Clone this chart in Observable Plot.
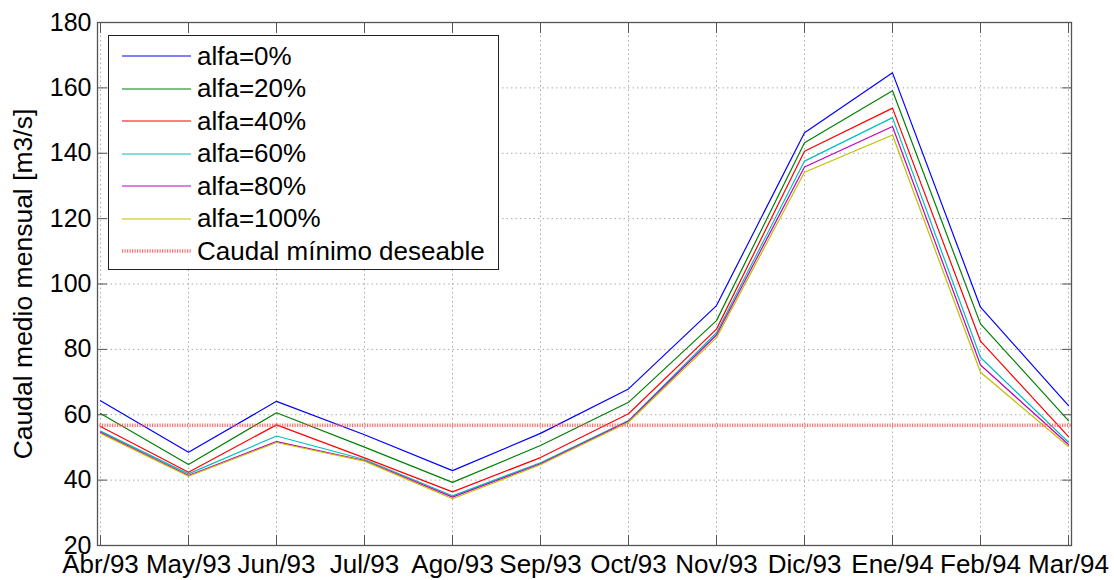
<!DOCTYPE html>
<html>
<head>
<meta charset="utf-8">
<script src="https://cdn.jsdelivr.net/npm/d3@7"></script>
<script src="https://cdn.jsdelivr.net/npm/@observablehq/plot@0.6"></script>
<style>
  html, body { margin: 0; padding: 0; background: #fff; }
  #wrap { position: relative; width: 1114px; height: 580px; font-family: "Liberation Sans", Arial, sans-serif; }
  #legend { position: absolute; left: 108px; top: 35px; width: 391px; height: 235px; border: 1px solid #222; background: #fff; box-sizing: border-box; }
  .row { position: absolute; left: 13px; height: 30px; display: flex; align-items: center; font-size: 26px; color: #000; }
  .row svg { width: 69px; height: 10px; margin-right: 6px; }
</style>
</head>
<body>
<div id="wrap"></div>
<script>
const months = ["Abr/93","May/93","Jun/93","Jul/93","Ago/93","Sep/93","Oct/93","Nov/93","Dic/93","Ene/94","Feb/94","Mar/94"];
const seriesNames = ["alfa=0%","alfa=20%","alfa=40%","alfa=60%","alfa=80%","alfa=100%"];
const seriesColors = ["#0000ff","#008000","#ff0000","#00bfbf","#bf00bf","#bfbf00"];
const alfa0   = [64.3, 48.5, 64.1, 53.9, 42.9, 54.3, 67.9, 93.4, 146.3, 164.6, 92.9, 62.8];
const alfa20  = [60.4, 44.8, 60.6, 50.1, 39.3, 50.6, 63.8, 88.8, 143.2, 159.1, 87.8, 58.2];
const alfa40  = [56.4, 42.4, 56.9, 46.8, 36.4, 46.9, 60.3, 86.2, 140.6, 153.8, 82.5, 53.3];
const alfa60  = [55.0, 41.9, 53.5, 46.3, 35.2, 45.3, 58.2, 85.1, 137.6, 150.9, 77.5, 51.6];
const alfa80  = [54.6, 41.4, 51.8, 46.0, 34.8, 45.0, 58.0, 84.4, 135.8, 148.2, 75.2, 50.9];
const alfa100 = [54.3, 41.2, 51.5, 45.8, 34.3, 44.7, 57.7, 83.6, 134.2, 145.6, 73.0, 50.3];
const caudalMinimo = 56.8;
const minLabel = "Caudal mínimo deseable";
const yTicks = [20, 40, 60, 80, 100, 120, 140, 160, 180];
const yLabel = "Caudal medio mensual [m3/s]";

const allSeries = [alfa0, alfa20, alfa40, alfa60, alfa80, alfa100];
const rows = [];
allSeries.forEach((vals, si) => vals.forEach((v, i) => rows.push({month: months[i], value: v, series: seriesNames[si]})));

const frameColor = "#555";
const chart = Plot.plot({
  width: 1114,
  height: 580,
  marginLeft: 97,
  marginRight: 43,
  marginTop: 22,
  marginBottom: 35,
  style: {fontFamily: "'Liberation Sans', Arial, sans-serif", fontSize: "25px", background: "#fff", color: "#000", overflow: "visible"},
  x: {type: "point", domain: months, padding: 0, axis: null},
  y: {domain: [20, 180], axis: null},
  color: {domain: seriesNames, range: seriesColors},
  marks: [
    Plot.gridY(yTicks, {stroke: "#aaa", strokeOpacity: 1, strokeDasharray: "1.5,3", strokeWidth: 1}),
    Plot.gridX(months, {stroke: "#aaa", strokeOpacity: 1, strokeDasharray: "1.5,3", strokeWidth: 1}),
    Plot.line(rows, {x: "month", y: "value", z: "series", stroke: "series", strokeWidth: 1.2}),
    Plot.ruleY([caudalMinimo], {stroke: "#ff5a5a", strokeWidth: 3.5, strokeDasharray: "1.2,1.3", strokeOpacity: 0.85}),
    Plot.frame({stroke: frameColor, strokeWidth: 1.3}),
    Plot.axisY(yTicks, {anchor: "left", tickSize: 0, tickPadding: 6, fontSize: 25, stroke: frameColor, label: null}),
    Plot.axisY(yTicks, {anchor: "left", tickSize: -10, text: null, stroke: frameColor, label: null}),
    Plot.axisY(yTicks, {anchor: "right", tickSize: -10, text: null, stroke: frameColor, label: null}),
    Plot.axisX(months, {anchor: "bottom", tickSize: 0, tickPadding: 9, fontSize: 26, label: null}),
    Plot.axisX(months, {anchor: "bottom", tickSize: -10, text: null, stroke: frameColor, label: null}),
    Plot.axisX(months, {anchor: "top", tickSize: -10, text: null, stroke: frameColor, label: null}),
    Plot.text([yLabel], {frameAnchor: "left", rotate: -90, dx: -74, fontSize: 26.5, textAnchor: "middle", fill: "#000"})
  ]
});

const wrap = document.getElementById("wrap");
wrap.appendChild(chart);

// Legend
const legend = document.createElement("div");
legend.id = "legend";
const entries = seriesNames.map((n, i) => ({name: n, color: seriesColors[i], min: false}));
entries.push({name: minLabel, color: "#ff5a5a", min: true});
entries.forEach((e, i) => {
  const r = document.createElement("div");
  r.className = "row";
  r.style.top = (5 + i * 32.5) + "px";
  const svgNS = "http://www.w3.org/2000/svg";
  const s = document.createElementNS(svgNS, "svg");
  const l = document.createElementNS(svgNS, "line");
  l.setAttribute("x1", 0); l.setAttribute("x2", 69);
  l.setAttribute("y1", 5); l.setAttribute("y2", 5);
  l.setAttribute("stroke", e.color);
  if (e.min) {
    l.setAttribute("stroke-width", 3.5);
    l.setAttribute("stroke-dasharray", "1.2,1.3");
    l.setAttribute("stroke-opacity", 0.85);
  } else {
    l.setAttribute("stroke-width", 1.2);
  }
  s.appendChild(l);
  r.appendChild(s);
  const t = document.createElement("span");
  t.textContent = e.name;
  r.appendChild(t);
  legend.appendChild(r);
});
wrap.appendChild(legend);
</script>
</body>
</html>
